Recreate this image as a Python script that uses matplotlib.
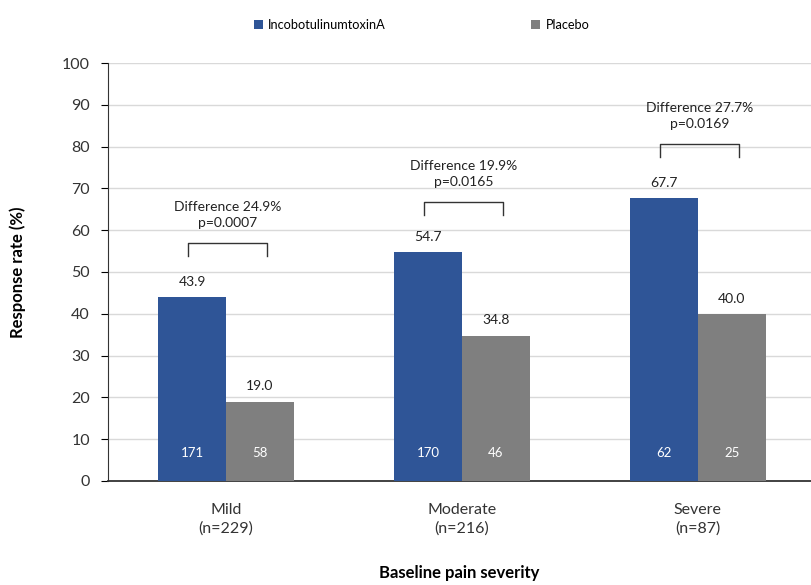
import numpy as np
import matplotlib.pyplot as plt

plt.rcParams['font.family'] = ['Lato', 'DejaVu Sans']

# data
categories = ['Mild\n(n=229)', 'Moderate\n(n=216)', 'Severe\n(n=87)']
inco = [43.9, 54.7, 67.7]
placebo = [19.0, 34.8, 40.0]
inco_n = [171, 170, 62]
placebo_n = [58, 46, 25]
diff_text = ['Difference 24.9%\np=0.0007', 'Difference 19.9%\np=0.0165', 'Difference 27.7%\np=0.0169']
bracket_y = [56.9, 66.7, 80.6]

blue = '#2F5597'
gray = '#7F7F7F'

fig = plt.figure(figsize=(8.11, 5.85), dpi=100)
ax = fig.add_axes([0.1332, 0.1778, 0.8668, 0.7145])

x = np.arange(len(categories))
w = 0.288
b1 = ax.bar(x - w / 2, inco, w, color=blue, label='IncobotulinumtoxinA', zorder=3)
b2 = ax.bar(x + w / 2, placebo, w, color=gray, label='Placebo', zorder=3)

# value labels above bars
for i in range(len(x)):
    ax.text(x[i] - w / 2, inco[i] + 2.2, f'{inco[i]:.1f}', ha='center', va='bottom', fontsize=10, color='#222222')
    ax.text(x[i] + w / 2, placebo[i] + 2.2, f'{placebo[i]:.1f}', ha='center', va='bottom', fontsize=10, color='#222222')
    ax.text(x[i] - w / 2, 6.7, str(inco_n[i]), ha='center', va='center', fontsize=9.5, color='white', zorder=4)
    ax.text(x[i] + w / 2, 6.7, str(placebo_n[i]), ha='center', va='center', fontsize=9.5, color='white', zorder=4)

# brackets + difference text
for i in range(len(x)):
    x0 = x[i] - w / 2 - 0.015
    x1 = x[i] + w / 2 + 0.03
    y = bracket_y[i]
    ax.plot([x0, x0, x1, x1], [y - 3.0, y, y, y - 3.0], color='#333333', lw=1.0, zorder=4)
    ax.text((x0 + x1) / 2, y + 3.3, diff_text[i], ha='center', va='bottom', fontsize=10,
            color='#222222', linespacing=1.45)

ax.set_ylim(0, 100)
ax.set_xlim(-0.5, 2.48)
ax.set_yticks(np.arange(0, 101, 10))
ax.set_xticks(x)
ax.set_xticklabels(categories, fontsize=11.5, color='#333333', linespacing=1.4)
ax.tick_params(axis='y', labelsize=11.5, labelcolor='#333333', length=5, direction='out', pad=8)
ax.tick_params(axis='x', length=0, pad=16)

ax.yaxis.grid(True, color='#D9D9D9', lw=1, zorder=0)
ax.set_axisbelow(True)
for s in ['top', 'right']:
    ax.spines[s].set_visible(False)
ax.spines['left'].set_color('#333333')
ax.spines['bottom'].set_color('#333333')
ax.spines['bottom'].set_linewidth(1.3)

ax.set_ylabel('Response rate (%)', fontsize=12, fontweight='bold', labelpad=26)
ax.set_xlabel('Baseline pain severity', fontsize=12, fontweight='bold', labelpad=21)

fig.legend(handles=[b1, b2], loc='center', bbox_to_anchor=(0.52, 0.957), ncol=2, frameon=False,
           fontsize=9.2, handlelength=0.7, handleheight=0.7, columnspacing=11.4, handletextpad=0.4)

fig.savefig('out.png', dpi=100)
